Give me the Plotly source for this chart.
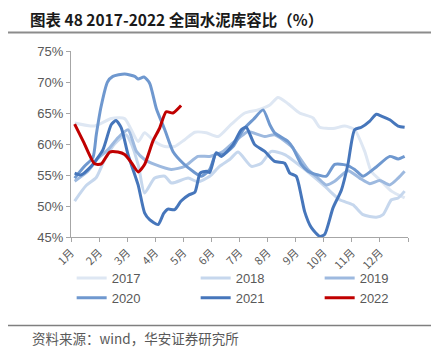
import plotly.graph_objects as go

# ---------------- data ----------------
months = ["1月", "2月", "3月", "4月", "5月", "6月", "7月", "8月", "9月", "10月", "11月", "12月"]

x2017 = [0.13, 0.84, 1.44, 1.91, 2.39, 2.62, 2.98, 3.34, 3.69, 4.05, 4.41, 4.82, 5.24, 5.71, 6.19,
         6.66, 7.08, 7.37, 7.73, 8.14, 8.62, 8.86, 9.33, 9.75, 10.1, 10.46, 10.69, 11.05, 11.41, 11.88]
y2017 = [63.4, 62.9, 64.1, 64.1, 60.4, 61.8, 60.4, 59.6, 59.6, 60.7, 61.9, 61.8, 61.2, 63.2, 65.0,
         65.5, 66.3, 67.5, 66.5, 65.0, 64.2, 62.7, 62.5, 62.9, 62.3, 58.8, 55.6, 54.0, 52.4, 51.3]

x2018 = [0.13, 0.54, 0.9, 1.2, 1.55, 1.96, 2.15, 2.4, 2.62, 2.98, 3.34, 3.58, 4.17, 4.52, 4.94, 5.29,
         5.65, 5.95, 6.42, 6.78, 7.13, 7.61, 8.32, 9.03, 9.57, 10.04, 10.4, 10.87, 11.11, 11.41, 11.65, 11.88]
y2018 = [50.8, 53.3, 54.6, 57.5, 60.0, 61.5, 60.0, 56.5, 52.1, 54.5, 54.8, 53.7, 54.5, 53.9, 54.8, 56.4,
         57.5, 58.7, 56.4, 56.9, 58.8, 58.3, 55.9, 53.2, 51.0, 50.2, 48.6, 48.2, 48.6, 51.0, 51.3, 52.4]

x2019 = [0.13, 0.6, 0.96, 1.32, 1.67, 2.03, 2.33, 2.62, 2.98, 3.57, 4.05, 4.52, 4.94, 5.41, 5.77, 6.13,
         6.31, 6.9, 7.25, 7.85, 8.44, 8.8, 9.09, 9.39, 9.86, 10.28, 10.64, 10.99, 11.35, 11.65, 11.88]
y2019 = [54.0, 55.6, 57.7, 59.1, 61.0, 62.3, 58.8, 57.5, 56.7, 55.9, 56.4, 58.0, 58.0, 58.8, 60.2, 61.5,
         62.0, 61.2, 61.5, 59.6, 55.9, 54.5, 53.4, 54.0, 55.7, 54.5, 53.6, 54.1, 53.4, 54.5, 55.6]

x2020 = [0.13, 0.48, 0.78, 0.9, 1.07, 1.3, 1.49, 1.91, 2.27, 2.39, 2.6, 2.8, 3.04, 3.34, 3.63, 3.99,
         4.34, 4.64, 4.94, 5.17, 5.41, 5.77, 6.13, 6.5, 6.84, 7.08, 7.25, 7.73, 7.9, 8.2, 8.44, 8.8,
         9.09, 9.39, 9.8, 10.1, 10.4, 10.87, 11.35, 11.65, 11.88]
y2020 = [54.5, 56.4, 57.8, 61.5, 66.0, 70.0, 70.9, 71.3, 70.9, 70.5, 70.8, 69.8, 65.7, 62.3, 58.8, 56.9,
         55.6, 54.8, 55.9, 58.5, 58.3, 59.6, 62.3, 64.0, 65.5, 63.1, 61.8, 60.4, 59.4, 56.7, 55.6, 55.0,
         54.8, 56.7, 56.6, 55.9, 54.8, 56.3, 58.0, 57.6, 58.0]

x2021 = [0.13, 0.35, 0.72, 1.14, 1.43, 1.6, 1.79, 2.03, 2.39, 2.62, 2.8, 3.1, 3.3, 3.45, 3.69, 3.92,
         4.2, 4.41, 4.6, 4.82, 4.94, 5.17, 5.35, 5.77, 6.06, 6.24, 6.54, 6.9, 7.25, 7.61, 7.79, 8.02,
         8.2, 8.32, 8.56, 8.86, 9.03, 9.33, 9.63, 9.86, 10.1, 10.34, 10.64, 10.87, 11.05, 11.35, 11.65, 11.88]
y2021 = [55.3, 55.0, 56.4, 59.1, 63.1, 63.8, 62.6, 58.3, 53.4, 48.9, 47.8, 47.0, 48.8, 49.5, 49.4, 50.8,
         51.8, 52.2, 55.3, 55.6, 55.4, 58.6, 58.0, 59.9, 62.3, 62.7, 59.9, 58.8, 57.2, 56.9, 55.3, 54.8,
         51.6, 49.1, 46.5, 45.1, 45.4, 49.7, 52.6, 56.7, 62.3, 62.7, 63.7, 64.8, 64.5, 63.9, 62.9, 62.7]

x2022 = [0.13, 0.45, 0.84, 1.08, 1.38, 1.67, 1.91, 2.15, 2.39, 2.62, 2.92, 3.15, 3.39, 3.63, 3.92]
y2022 = [63.2, 60.3, 56.8, 56.8, 58.7, 58.7, 58.3, 57.0, 55.5, 56.7, 60.5, 62.5, 65.2, 65.0, 66.2]

series_names = ["2017", "2018", "2019", "2020", "2021", "2022"]
series_x = [x2017, x2018, x2019, x2020, x2021, x2022]
series_y = [y2017, y2018, y2019, y2020, y2021, y2022]
series_colors = ["#DEE7F3", "#C6D7ED", "#9DB9DF", "#6F98CF", "#4676BB", "#C00000"]

title_text = "图表 48 2017-2022 全国水泥库容比（%）"
source_text = "资料来源：wind，华安证券研究所"

# ---------------- layout helpers ----------------
W, H = 439, 356
L, R, T, B = 63, 400, 43, 229


def px(x):
    return (x - L) / (R - L)


def py(y):
    return (B - y) / (B - T)


fig = go.Figure()
for name, xs, ys, c in zip(series_names, series_x, series_y, series_colors):
    fig.add_trace(go.Scatter(x=xs, y=ys, name=name, mode="lines",
                             line=dict(color=c, width=3, shape="spline", smoothing=0.6),
                             hoverinfo="skip"))

axis_color = "#A6A6A6"
tick_font = dict(family="Liberation Sans, Arial, sans-serif", size=13, color="#595959")

fig.update_layout(
    width=W, height=H,
    margin=dict(l=L, r=W - R, t=T, b=H - B, pad=0),
    paper_bgcolor="white", plot_bgcolor="white",
    showlegend=True,
    title=dict(text="<b>" + title_text + "</b>", x=22 / W, xanchor="left",
               y=1 - 13 / H, yanchor="middle", xref="container", yref="container",
               font=dict(family="Noto Sans CJK SC", size=15.5, color="#1a1a1a")),
    xaxis=dict(range=[0, len(months)], tickmode="array",
               tickvals=list(range(len(months) + 1)), ticktext=months + [""],
               tickangle=-45, ticks="outside", ticklen=4, tickcolor=axis_color,
               showline=True, linecolor=axis_color, linewidth=1, showgrid=False, zeroline=False,
               tickfont=dict(family="Noto Sans CJK SC", size=11, color="#595959"), fixedrange=True),
    yaxis=dict(range=[45, 75], tick0=45, dtick=5, ticksuffix="%",
               ticks="outside", ticklen=4, tickcolor=axis_color,
               showline=True, linecolor=axis_color, linewidth=1, showgrid=False, zeroline=False,
               tickfont=tick_font, fixedrange=True),
    legend=dict(orientation="h", x=-0.001, xanchor="left", y=py(255), yanchor="top",
                indentation=1, entrywidth=78, entrywidthmode="pixels",
                font=dict(family="Liberation Sans, Arial, sans-serif", size=13, color="#595959"),
                bgcolor="rgba(0,0,0,0)", borderwidth=0, traceorder="normal"),
    shapes=[
        dict(type="line", xref="paper", yref="paper", x0=px(0), x1=px(430), y0=py(24.5), y1=py(24.5),
             line=dict(color="#8C8C8C", width=2)),
        dict(type="line", xref="paper", yref="paper", x0=px(0), x1=px(430), y0=py(317.5), y1=py(317.5),
             line=dict(color="#7F7F7F", width=1.5)),
    ],
    annotations=[
        dict(text=source_text, xref="paper", yref="paper", x=px(22), y=py(330),
             xanchor="left", yanchor="middle", showarrow=False,
             font=dict(family="Noto Sans CJK SC", size=13.5, color="#595959")),
    ],
)

fig.write_html("out.html")
